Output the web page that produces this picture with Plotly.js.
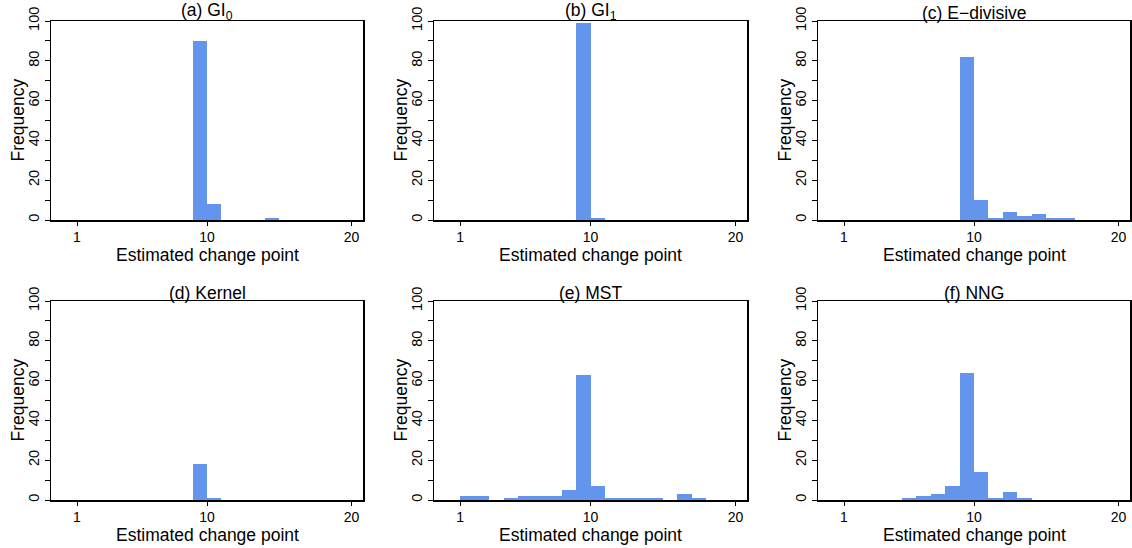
<!DOCTYPE html>
<html><head><meta charset="utf-8">
<script src="https://cdn.plot.ly/plotly-3.0.1.min.js"></script>
<style>html,body{margin:0;padding:0;background:#fff}#chart{width:1132px;height:548px}</style>
</head><body><div id="chart"></div>
<script>
// Estimated change point (histogram bin (cp-1, cp])
const changePoints = [1,2,3,4,5,6,7,8,9,10,11,12,13,14,15,16,17,18,19,20];
const panelTitles = ["(a) GI<sub>0</sub>", "(b) GI<sub>1</sub>", "(c) E\u2212divisive", "(d) Kernel", "(e) MST", "(f) NNG"];
const gi0       = [0,0,0,0,0,0,0,0,0,90,8,0,0,0,1,0,0,0,0,0];
const gi1       = [0,0,0,0,0,0,0,0,0,99,1,0,0,0,0,0,0,0,0,0];
const eDivisive = [0,0,0,0,0,0,0,0,0,82,10,1,4,2,3,1,1,0,0,0];
const kernel    = [0,0,0,0,0,0,0,0,0,18,1,0,0,0,0,0,0,0,0,0];
const mst       = [0,2,2,0,1,2,2,2,5,63,7,1,1,1,1,0,3,1,0,0];
const nng       = [0,0,0,0,0,1,2,3,7,64,14,1,4,1,0,0,0,0,0,0];
const xTickVals = [1,10,20];
const yTickVals = [0,20,40,60,80,100];
const yMinorVals = [10,30,50,70,90];
const xTitle = "Estimated change point";
const yTitle = "Frequency";

const series = [gi0, gi1, eDivisive, kernel, mst, nng];
const W = 1132, H = 548;
const colDom = [[51/W, 363/W],[434/W, 747/W],[818/W, 1130/W]];
const rowDom = [[1-220/H, 1-21/H],[1-500/H, 1-301/H]];
const font = {family: "Liberation Sans, Arial, sans-serif", color: "#000"};

const traces = [], annotations = [];
const layout = {
  width: W, height: H, margin: {l:0,r:0,t:0,b:0},
  paper_bgcolor: "#fff", plot_bgcolor: "#fff",
  showlegend: false, bargap: 0, font: Object.assign({size:15}, font)
};
series.forEach((vals, i) => {
  const n = i + 1;
  const xa = n === 1 ? "x" : "x" + n, ya = n === 1 ? "y" : "y" + n;
  traces.push({
    type: "bar", x: changePoints.map(c => c - 0.5), y: vals, width: 1,
    xaxis: xa, yaxis: ya, marker: {color: "#6495ED", line: {width: 0}},
    hoverinfo: "x+y"
  });
  const r = Math.floor(i / 3), c = i % 3;
  layout["xaxis" + (n === 1 ? "" : n)] = {
    domain: colDom[c], anchor: ya, range: [-0.8, 20.8],
    tickmode: "array", tickvals: xTickVals, ticktext: xTickVals.map(String),
    ticks: "outside", ticklen: 4, tickwidth: 1, tickcolor: "#000",
    showline: true, linecolor: "#000", linewidth: 1.5, mirror: true,
    showgrid: false, zeroline: false, automargin: false,
    tickfont: Object.assign({size: 14}, font)
  };
  layout["yaxis" + (n === 1 ? "" : n)] = {
    domain: rowDom[r], anchor: xa, range: [0, 100],
    tickmode: "array", tickvals: yTickVals, ticktext: yTickVals.map(String), tickangle: -90,
    ticks: "outside", ticklen: 5, tickwidth: 1, tickcolor: "#000",
    minor: {tickmode: "array", tickvals: yMinorVals, ticks: "outside", ticklen: 5, tickwidth: 1, tickcolor: "#000", showgrid: false},
    showline: true, linecolor: "#000", linewidth: 1.5, mirror: true,
    showgrid: false, zeroline: false, automargin: false,
    tickfont: Object.assign({size: 14.5}, font)
  };
  annotations.push({
    text: xTitle, xref: "paper", yref: "paper",
    x: (colDom[c][0] + colDom[c][1]) / 2, y: rowDom[r][0],
    xanchor: "center", yanchor: "middle", yshift: -35, showarrow: false,
    font: Object.assign({size: 17.5}, font)
  });
  annotations.push({
    text: yTitle, textangle: -90, xref: "paper", yref: "paper",
    x: (colDom[c][0] * W - 34) / W, y: (rowDom[r][0] + rowDom[r][1]) / 2,
    xanchor: "center", yanchor: "middle", showarrow: false,
    font: Object.assign({size: 17.5}, font)
  });
  annotations.push({
    text: panelTitles[i], xref: "paper", yref: "paper",
    x: (colDom[c][0] + colDom[c][1]) / 2, y: rowDom[r][1],
    xanchor: "center", yanchor: "bottom", showarrow: false,
    font: Object.assign({size: 17.5}, font), yshift: -4
  });
});
layout.annotations = annotations;
Plotly.newPlot("chart", traces, layout, {displayModeBar: false, staticPlot: true});
</script></body></html>
